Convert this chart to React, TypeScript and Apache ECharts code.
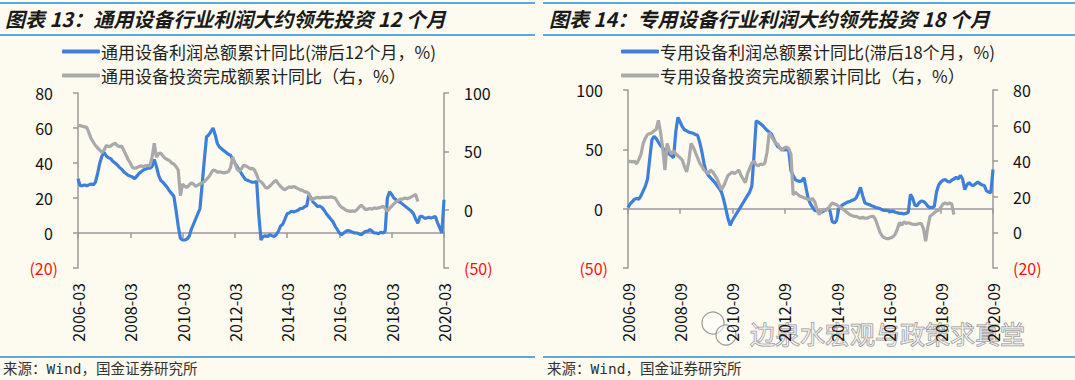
import React, { useEffect, useRef } from "react";
import * as echarts from "echarts";

const FONT = "'Noto Sans CJK SC', 'Noto Sans', sans-serif";

// ---------- Chart 13 (通用设备) ----------
const title1 = "图表 13：通用设备行业利润大约领先投资 12 个月";
const name1a = "通用设备利润总额累计同比(滞后12个月，%)";
const name1b = "通用设备投资完成额累计同比（右，%）";
const start1: [number, number] = [2006, 3];
const profit1 = [
  31, 27, 27, 27.5, 27, 27.5, 28, 27.5, 29, 34,
  40, 44, 46, 44, 43, 42.5, 41, 40, 39, 37.5,
  36.5, 35, 34, 33, 32.5, 32, 31, 32.5, 34, 35,
  36, 36.5, 37, 37, 38, 42, 38, 33, 30, 29,
  27.5, 26, 24, 22.5, 21, 13, 4, -3, -4, -4,
  -3.5, -2, 2, 5, 8, 11, 14, 28, 42, 55,
  56, 58, 60, 56, 51, 49, 48, 47, 46, 45,
  44.5, 42, 40, 38, 36, 34, 32, 30.5, 30, 29.5,
  29, 29, 29.5, 10, -4, -2, -1.5, -2, -1, -1.5,
  -2, -1, 1, 4, 5, 8, 11, 11.5, 12.5, 12,
  12.5, 13, 14, 14, 15, 15.5, 22, 20, 17.5, 16.5,
  15, 15.5, 14.5, 13, 11, 9.5, 8, 6.5, 4, 2,
  0, -1, 0, 1, 1.5, 1, 0.5, 0, 0, -0.5,
  -1, 0, 1, 1, 2, 1, 0, 0, -0.5, 0.5,
  0, 1, 20, 23.5, 22, 20, 19, 18, 17.5, 16.5,
  15.5, 14.5, 13.5, 12.5, 11, 8, 5.5, 9.5, 9.5, 8.5,
  8.5, 9, 8.5, 9, 9.5, 6, 3, 0, 19,
];
const invest1 = [
  72, 72, 71.5, 71, 70.5, 66, 61, 58, 55, 53,
  51, 49, 51, 55, 54, 54.5, 56, 57, 55, 54,
  54.5, 51, 47, 43, 40, 36, 35.5, 36, 37, 37.5,
  37, 37.5, 38, 37.5, 45, 57, 45, 48, 48.5, 46,
  44, 43, 42, 40, 39, 37, 34, 12, 22, 20,
  19, 21, 23, 22, 20, 21, 22, 23, 24, 26,
  28, 31, 34, 33.5, 32, 32.5, 32, 31.5, 32, 32.5,
  36, 45, 40, 35, 33, 35, 38, 37.5, 36.5, 35,
  35.5, 34, 30, 25, 24, 22, 19, 18.5, 20, 22,
  24, 25, 22, 20, 18, 17, 18.5, 19.5, 19, 20,
  19, 18, 17, 16.5, 15.5, 15, 14, 8.5, 9, 10,
  10.5, 10, 10.5, 10.5, 10.5, 10.5, 11, 10.5, 10, 7,
  4, 2, 1, -0.5, -1, -1.5, -1, -1.5, 0, 2,
  4, 2, 0, 0.5, 1, 0.5, 1.5, 1, 1.5, 2,
  3, 1, -1.5, 1, 3, 5, 6.5, 8, 9, 9,
  10, 9.5, 10, 11, 12, 13, 7,
];

// ---------- Chart 14 (专用设备) ----------
const title2 = "图表 14：专用设备行业利润大约领先投资 18 个月";
const name2a = "专用设备利润总额累计同比(滞后18个月，%)";
const name2b = "专用设备投资完成额累计同比（右，%）";
const start2: [number, number] = [2006, 9];
const profit2 = [
  1, 4, 6, 8, 8.5, 8, 11, 15, 19, 25,
  42, 58, 61, 59, 56, 53, 51, 49.5, 48, 46,
  44.5, 43, 65, 77, 73, 69, 66.5, 65.5, 64.5, 64,
  63.5, 62.5, 62, 56, 48, 38, 31, 28, 26, 24,
  22, 19.5, 17, 14, 8, 0, -8, -14, -10, -7,
  -4, -1, 2, 5, 8, 11, 14, 19, 45, 74,
  73, 71.5, 70, 68, 66, 64.5, 63, 59, 55, 52,
  51, 50, 49.5, 50, 48.5, 32, 28, 24.5, 23.5, 23,
  23.5, 26, 17, 8, 4, 1, -1.5, -2, -2.5, -3,
  -2, -1, 0, -2, -11, -12, -10, 0, 2, 3.5,
  4.5, 5.5, 6, 7, 7.5, 9, 13, 18, 11, 5,
  4, 3.5, 2.5, 2, 1, 0.5, 0, -1, -1.5, -1.5,
  -2, -2.5, -2, -3, -3.5, -4, -4, -4.5, -4, -3,
  12, 9, 3, 2.5, 5, 6.5, 6, 4.5, 2, 1,
  1, 2, 14, 20, 22.5, 24, 24.5, 23, 22.5, 24,
  25, 26.5, 25, 28, 25, 16, 20, 22, 20, 19.5,
  21, 22.5, 21, 20, 19.5, 15, 14, 13.5, 33,
];
const invest2 = [
  39.5, 40, 39.5, 40, 38.5, 41, 44, 50, 53, 55,
  55.5, 56, 57, 58, 63, 56, 47, 35, 50, 46,
  44, 46, 44, 43, 42, 40.5, 37, 34, 40, 50,
  48, 45, 42, 39, 37, 35, 34, 33, 35, 34,
  32, 30, 27, 24, 26, 29, 32, 33, 34, 33,
  34, 35, 32, 30, 28, 33, 36, 39, 40, 38,
  37.5, 38.5, 38, 39, 45, 56, 54, 52, 50, 49.5,
  47, 46, 47.5, 48, 47, 44, 21, 22.5, 21.5, 20.5,
  20, 19.5, 19, 18.5, 18.5, 19, 17, 13, 10, 12,
  13, 12.5, 13, 15, 16.5, 16, 15.5, 14.5, 14, 13,
  12, 11, 10, 9.5, 9, 9, 8.5, 8, 8.5, 8,
  8, 8.5, 9, 9, 7, 3.5, 0, -2, -3, -3.5,
  -3.5, -3, -2.5, -1, 2, 5.5, 4, 6, 5, 5.5,
  5, 4.5, 4.5, 4.5, 5, 5, 2, -5, 3, 9,
  10, 11, 12, 12.5, 14, 16, 16.5, 16, 16.5, 16,
  10,
];

const source = "来源：Wind，国金证券研究所";
const watermark = "边泉水宏观与政策求真堂";

const BLUE = "#3d7fd9";
const GRAY = "#a9a9a9";
const AXIS = "#9a9a9a";
const LINEBLUE = "#5aaad7";
const RED = "#ff1010";

function monthCats(start: [number, number], n: number): string[] {
  const out: string[] = [];
  let [y, m] = start;
  for (let i = 0; i < n; i++) {
    out.push(`${y}-${m < 10 ? "0" + m : m}`);
    m++;
    if (m > 12) { m = 1; y++; }
  }
  return out;
}

function pad(arr: number[], n: number): (number | null)[] {
  const out: (number | null)[] = arr.slice();
  while (out.length < n) out.push(null);
  return out;
}

function yAxis(grid: number, side: "left" | "right", min: number, max: number, interval: number) {
  return {
    type: "value",
    gridIndex: grid,
    position: side,
    min, max, interval,
    splitLine: { show: false },
    axisLine: { show: true, lineStyle: { color: AXIS, width: 1.5 } },
    axisTick: { show: true, length: 5, lineStyle: { color: AXIS, width: 1.5 } },
    axisLabel: {
      margin: 20,
      fontSize: 16,
      fontFamily: FONT,
      color: "#111",
      formatter: (v: number) =>
        v < 0 ? `{neg|(${Math.abs(v)})}` : side === "left" ? `{posL|${v}}` : `{pos|${v}}`,
      rich: {
        neg: { color: RED, fontSize: 16, fontFamily: FONT },
        posL: { color: "#111", fontSize: 16, fontFamily: FONT, padding: [0, 5, 0, 0] },
        pos: { color: "#111", fontSize: 16, fontFamily: FONT },
      },
    },
  };
}

function xAxes(grid: number, cats: string[]) {
  return [
    {
      type: "category",
      gridIndex: grid,
      data: cats,
      boundaryGap: false,
      position: "bottom",
      axisLine: { show: true, onZero: true, lineStyle: { color: AXIS, width: 1.5 } },
      axisTick: { show: true, interval: 23, length: 5, lineStyle: { color: AXIS, width: 1.5 } },
      axisLabel: { show: false },
      splitLine: { show: false },
    },
    {
      type: "category",
      gridIndex: grid,
      data: cats,
      boundaryGap: false,
      position: "bottom",
      axisLine: { show: false, onZero: false },
      axisTick: { show: false },
      axisLabel: {
        interval: 23,
        rotate: 90,
        margin: 15,
        fontSize: 16,
        fontFamily: FONT,
        color: "#111",
      },
      splitLine: { show: false },
    },
  ];
}

export default function App() {
  const ref = useRef<HTMLDivElement>(null);
  useEffect(() => {
    if (!ref.current) return;
    const chart = echarts.init(ref.current, undefined, { renderer: "svg" });
    const n = 169;
    const cats1 = monthCats(start1, n);
    const cats2 = monthCats(start2, n);

    const lineSeries = (name: string, data: (number | null)[], color: string, xi: number, yi: number) => ({
      name,
      type: "line",
      data,
      xAxisIndex: xi,
      yAxisIndex: yi,
      showSymbol: false,
      symbol: "none",
      connectNulls: false,
      lineStyle: { color, width: 3.2 },
      itemStyle: { color },
    });

    const legend = (left: number, names: string[]) => ({
      left,
      top: 38,
      orient: "vertical",
      itemWidth: 38,
      itemHeight: 4,
      itemGap: 7,
      icon: "roundRect",
      data: names,
      textStyle: { fontSize: 17, fontFamily: FONT, color: "#222", padding: [0, 0, 0, -4] },
    });

    const hbar = (x: number, y: number, w: number) => ({
      type: "rect",
      shape: { x, y, width: w, height: 2 },
      style: { fill: LINEBLUE },
      silent: true,
    });

    const titleText = (x: number, text: string) => ({
      type: "text",
      x, y: 18,
      style: {
        text,
        fontSize: 20,
        fontStyle: "italic",
        fontWeight: "bold",
        fontFamily: FONT,
        fill: "#1a1a1a",
        verticalAlign: "middle",
      },
    });

    const sourceText = (x: number) => ({
      type: "text",
      x, y: 369,
      style: {
        text: source,
        fontSize: 14.5,
        fontFamily: "'DejaVu Sans Mono', " + FONT,
        fill: "#333",
        verticalAlign: "middle",
      },
    });

    chart.setOption({
      animation: false,
      backgroundColor: "#fdfaf0",
      grid: [
        { left: 78, width: 366, top: 93, height: 175, containLabel: false },
        { left: 628, width: 365, top: 90, height: 178, containLabel: false },
      ],
      legend: [legend(57, [name1a, name1b]), legend(616, [name2a, name2b])],
      xAxis: [...xAxes(0, cats1), ...xAxes(1, cats2)],
      yAxis: [
        yAxis(0, "left", -20, 80, 20),
        yAxis(0, "right", -50, 100, 50),
        yAxis(1, "left", -50, 100, 50),
        yAxis(1, "right", -20, 80, 20),
      ],
      series: [
        lineSeries(name1a, profit1, BLUE, 0, 0),
        lineSeries(name1b, pad(invest1, n), GRAY, 0, 1),
        lineSeries(name2a, profit2, BLUE, 2, 2),
        lineSeries(name2b, pad(invest2, n), GRAY, 2, 3),
      ],
      graphic: [
        hbar(0, 2, 535), hbar(0, 34, 535), hbar(0, 356, 535),
        hbar(543, 2, 532), hbar(543, 34, 532), hbar(543, 356, 532),
        titleText(5, title1),
        titleText(549, title2),
        sourceText(3),
        sourceText(547),
        {
          type: "circle",
          shape: { cx: 713, cy: 323, r: 11 },
          style: { fill: "rgba(255,255,255,0.5)", stroke: "#9a9a9a", lineWidth: 1.2 },
          silent: true,
        },
        {
          type: "circle",
          shape: { cx: 726, cy: 335, r: 10 },
          style: { fill: "rgba(255,255,255,0.6)", stroke: "#9a9a9a", lineWidth: 1.2 },
          silent: true,
        },
        {
          type: "text",
          x: 750, y: 333,
          style: {
            text: watermark,
            fontSize: 25,
            fontFamily: FONT,
            fill: "rgba(255,255,255,0.55)",
            stroke: "#8c8c8c",
            lineWidth: 1,
            verticalAlign: "middle",
          },
          silent: true,
        },
      ],
    });
    return () => chart.dispose();
  }, []);
  return (
    <div
      ref={ref}
      style={{ position: "absolute", left: 0, top: 0, width: 1075, height: 380 }}
    />
  );
}
